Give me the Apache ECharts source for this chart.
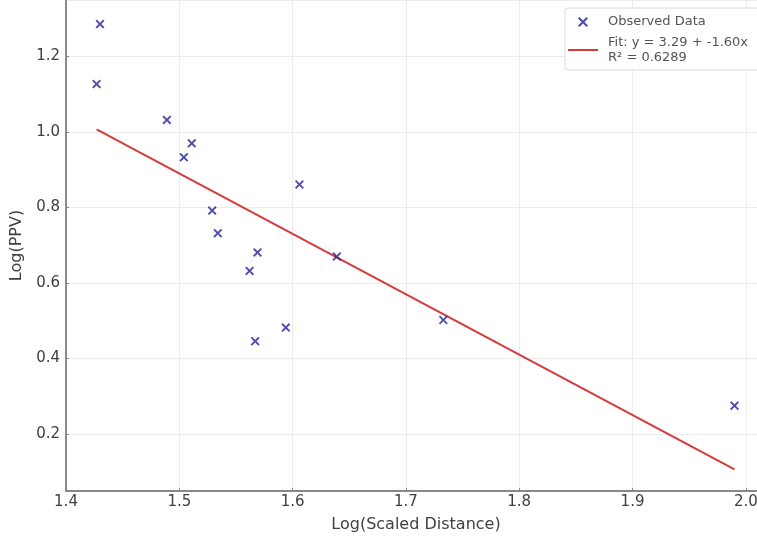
<!DOCTYPE html>
<html>
<head>
<meta charset="utf-8">
<script src="https://cdn.jsdelivr.net/npm/echarts@6/dist/echarts.min.js"></script>
<style>
html,body{margin:0;padding:0;background:#fff;overflow:hidden;}
#chart{width:757px;height:537px;}
</style>
</head>
<body>
<div id="chart"></div>
<script>
const logScaledDistance = [1.430, 1.427, 1.489, 1.511, 1.504, 1.606, 1.529, 1.534, 1.569, 1.562, 1.639, 1.594, 1.567, 1.733, 1.990];
const logPPV            = [1.286, 1.127, 1.032, 0.970, 0.933, 0.861, 0.792, 0.732, 0.681, 0.632, 0.670, 0.482, 0.446, 0.502, 0.275];

// Fit shown in the legend
const fitIntercept = 3.29;
const fitSlope = -1.60;
const fitR2 = '0.6289';

const seriesNames = ['Observed Data', 'Fit: y = 3.29 + -1.60x\nR\u00b2 = 0.6289'];
const xAxisTitle = 'Log(Scaled Distance)';
const yAxisTitle = 'Log(PPV)';

const scatterData = logScaledDistance.map((x, i) => [x, logPPV[i]]);
const xMinData = Math.min(...logScaledDistance);
const xMaxData = Math.max(...logScaledDistance);
const fitData = [xMinData, xMaxData].map(x => [x, fitIntercept + fitSlope * x]);

const XMARK = 'path://M0,1.5L1.5,0L5,3.5L8.5,0L10,1.5L6.5,5L10,8.5L8.5,10L5,6.5L1.5,10L0,8.5L3.5,5Z';
const LINEICON = 'path://M0,0L30,0L30,2L0,2Z';
const FONT = 'DejaVu Sans';
const TEXT = '#404040';
const RED = '#d63a3a';
const BLUE = '#22229c';

const chart = echarts.init(document.getElementById('chart'));
chart.setOption({
  animation: false,
  backgroundColor: '#ffffff',
  textStyle: { fontFamily: FONT },
  grid: { left: 66, width: 700, top: 0, height: 491, containLabel: false, outerBoundsMode: 'none' },
  xAxis: {
    type: 'value',
    min: 1.4, max: 2.0178, interval: 0.1,
    name: xAxisTitle, nameLocation: 'middle', nameGap: 26,
    nameTextStyle: { fontFamily: FONT, fontSize: 16, color: TEXT },
    axisLine: { show: true, onZero: false, lineStyle: { color: '#888', width: 2 } },
    axisTick: { show: true, inside: true, length: 3, lineStyle: { color: '#888' } },
    axisLabel: { margin: 4, fontFamily: FONT, fontSize: 15, color: TEXT, showMaxLabel: false,
      formatter: v => v.toFixed(1) },
    splitLine: { show: true, lineStyle: { color: '#ececec', width: 1 } }
  },
  yAxis: {
    type: 'value',
    min: 0.049, max: 1.3497, splitNumber: 6,
    name: yAxisTitle, nameLocation: 'middle', nameGap: 41,
    nameTextStyle: { fontFamily: FONT, fontSize: 16, color: TEXT },
    axisLine: { show: true, onZero: false, lineStyle: { color: '#888', width: 2 } },
    axisTick: { show: true, inside: true, length: 3, lineStyle: { color: '#888' } },
    axisLabel: { margin: 6, fontFamily: FONT, fontSize: 15, color: TEXT, showMinLabel: false, showMaxLabel: false,
      formatter: v => v.toFixed(1) },
    splitLine: { show: true, lineStyle: { color: '#ececec', width: 1 } }
  },
  legend: {
    orient: 'vertical',
    left: 565, top: 8,
    padding: [6.5, 40, 5, 3],
    itemGap: 5.5,
    itemWidth: 30, itemHeight: 10,
    backgroundColor: '#ffffff',
    borderColor: '#d9d9d9', borderWidth: 1, borderRadius: 3,
    textStyle: { fontFamily: FONT, fontSize: 13, color: '#555', lineHeight: 15, padding: [0, 0, 0, 5] },
    data: [
      { name: seriesNames[0], icon: XMARK },
      { name: seriesNames[1], icon: LINEICON }
    ]
  },
  series: [
    {
      name: seriesNames[0],
      type: 'scatter',
      data: scatterData,
      symbol: XMARK,
      symbolSize: 9,
      itemStyle: { color: BLUE },
      z: 3
    },
    {
      name: seriesNames[1],
      type: 'line',
      data: fitData,
      symbol: 'none',
      itemStyle: { color: RED },
      lineStyle: { color: RED, width: 2 },
      z: 2
    }
  ]
});
</script>
</body>
</html>
